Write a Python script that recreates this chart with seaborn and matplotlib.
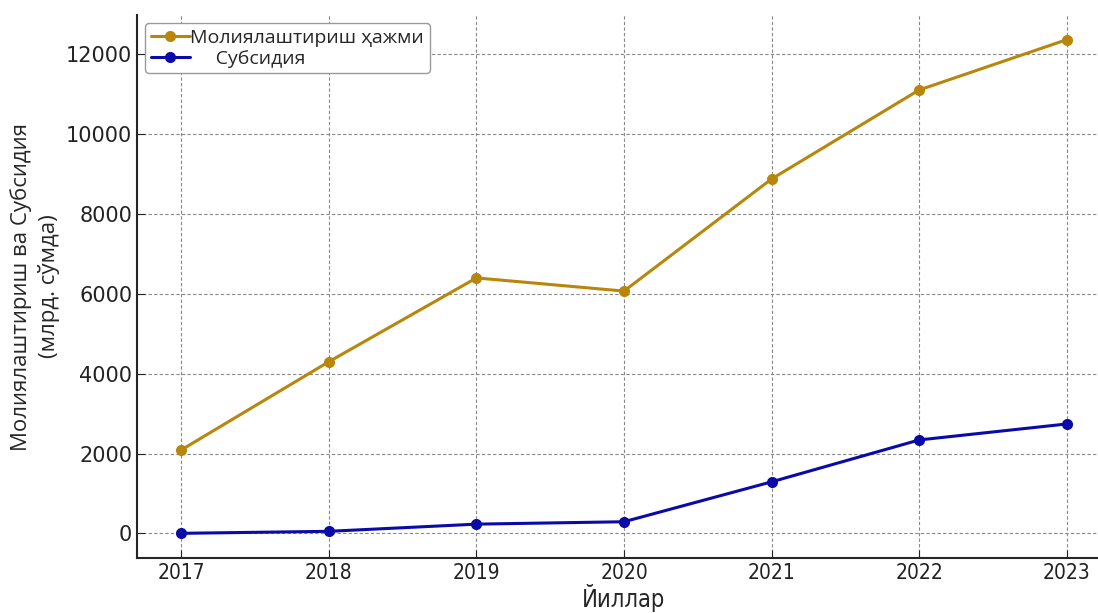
import matplotlib
matplotlib.use("Agg")
import matplotlib.pyplot as plt
from matplotlib import font_manager
import seaborn as sns
import pandas as pd

years = [2017, 2018, 2019, 2020, 2021, 2022, 2023]
moliya = [2090, 4300, 6400, 6070, 8880, 11110, 12370]
subsidiya = [0, 50, 230, 290, 1290, 2340, 2740]

df = pd.DataFrame({"Йил": years, "moliya": moliya, "subsidiya": subsidiya})

# тор шрифт бор-йўқлигини текшириш
names = {(f.name, f.stretch) for f in font_manager.fontManager.ttflist}
if ("DejaVu Sans", "condensed") in names or ("DejaVu Sans", 500) in names:
    narrow = {"family": "DejaVu Sans", "fontstretch": "condensed"}
elif any(n[0] == "Liberation Sans Narrow" for n in names):
    narrow = {"family": "Liberation Sans Narrow"}
else:
    narrow = {"family": "DejaVu Sans", "fontstretch": "condensed"}

sns.set_style("ticks")
plt.rcParams['font.family'] = ['DejaVu Sans']

fig = plt.figure(figsize=(10.98, 6.13), dpi=100)
ax = fig.add_axes([137/1098, 1 - 558/613, (1111 - 137)/1098, (558 - 15)/613])

sns.lineplot(x="Йил", y="moliya", data=df, ax=ax, color="#b8860b", marker="o",
             markersize=8, markeredgewidth=0, linewidth=2.2, label="Молиялаштириш ҳажми")
sns.lineplot(x="Йил", y="subsidiya", data=df, ax=ax, color="#0a0aa8", marker="o",
             markersize=8, markeredgewidth=0, linewidth=2.2, label="     Субсидия")

ax.grid(True, linestyle=(0, (3, 2)), color="#888888", linewidth=0.8)
ax.set_axisbelow(True)
for s in ["top", "right"]:
    ax.spines[s].set_visible(False)
ax.spines["left"].set_linewidth(1.5)
ax.spines["bottom"].set_linewidth(1.5)
ax.tick_params(direction="in", length=6, colors="#222222")
ax.tick_params(axis="y", labelsize=15)
ax.set_xticks(years)
ax.set_xticklabels([str(y) for y in years], fontsize=15, **narrow)

ax.set_xlabel("Йиллар", fontsize=17, labelpad=1, **narrow)
ax.set_ylabel("Молиялаштириш ва Субсидия\n(млрд. сўмда)", fontsize=16, family="Open Sans",
              labelpad=4, linespacing=1.35)

ax.legend(loc="upper left", frameon=True, edgecolor="#999999", framealpha=1,
          handlelength=2, borderpad=0.3, labelspacing=0.15, handletextpad=0.05,
          borderaxespad=0.4, prop={"family": "Open Sans", "size": 14})

fig.savefig("out.png", dpi=100)
